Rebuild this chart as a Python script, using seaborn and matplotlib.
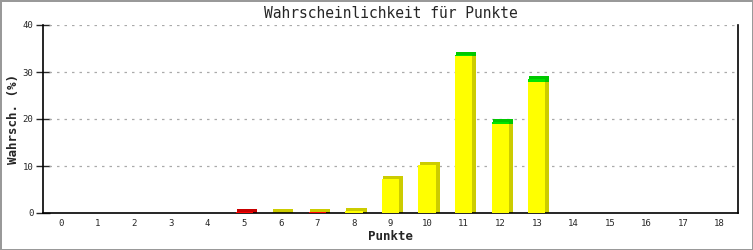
import numpy as np
import pandas as pd
import matplotlib
matplotlib.use("Agg")
import matplotlib.pyplot as plt
import seaborn as sns

# ---- data ----
punkte = list(range(19))
red_vals    = [0, 0, 0, 0, 0, 0.15, 0, 0.15, 0, 0, 0, 0, 0, 0, 0, 0, 0, 0, 0]
yellow_vals = [0, 0, 0, 0, 0, 0, 0.1, 0.05, 0.5, 7.3, 10.3, 33.4, 19.0, 27.9, 0, 0, 0, 0, 0]
green_vals  = [0, 0, 0, 0, 0, 0, 0, 0, 0, 0, 0, 0.25, 0.35, 0.7, 0, 0, 0, 0, 0]
y_ticks = [0, 10, 20, 30, 40]

title = "Wahrscheinlichkeit für Punkte"
xlabel = "Punkte"
ylabel = "Wahrsch. (%)"

sns.set_style("white")
plt.rcParams['font.family'] = ['DejaVu Sans Mono', 'DejaVu Sans']

fig = plt.figure(figsize=(7.53, 2.50), dpi=100)
fig.patch.set_facecolor("white")
fig.patch.set_edgecolor("#999999")
fig.patch.set_linewidth(2)
ax = fig.add_axes([43/753, 37/250, (738-43)/753, (213-25)/250])

x = np.array(punkte, dtype=float)
red = np.array(red_vals)
yel = np.array(yellow_vals)
grn = np.array(green_vals)

w = 0.47
dx, dy = 0.11, 0.65

segments = [
    (np.zeros_like(red), red, "#ff0000", "#c80000"),
    (red, yel, "#ffff00", "#cccc00"),
    (red + yel, grn, "#00e400", "#00c800"),
]

# 3D side/top faces
for bottom, h, front, dark in segments:
    m = h > 0
    ax.bar(x[m] - w / 2 + 0.03, h[m] + dy, width=w + dx - 0.03, bottom=bottom[m],
           align="edge", color=dark, linewidth=0, zorder=2)

# front faces
df = pd.DataFrame({"Punkte": punkte, "val": red_vals})
sns.barplot(data=df, x="Punkte", y="val", ax=ax, width=w, color="#ff0000",
            linewidth=0, errorbar=None, zorder=3, saturation=1)
for bottom, h, front, dark in segments[1:]:
    m = h > 0
    ax.bar(x[m], h[m], width=w, bottom=bottom[m], color=front, linewidth=0, zorder=3)

ax.set_xlim(-0.5, 18.5)
ax.set_ylim(0, 40)
ax.set_xticks(punkte)
ax.set_xticklabels([str(p) for p in punkte])
ax.set_yticks(y_ticks)
for yv in y_ticks[1:]:
    ax.axhline(yv, xmin=0.008, color="#aaaaaa", linestyle=(0, (2, 4)), linewidth=0.9, zorder=1)

for s in ["left", "bottom", "right"]:
    ax.spines[s].set_visible(True)
    ax.spines[s].set_color("black")
    ax.spines[s].set_linewidth(1.2)
ax.spines["top"].set_visible(False)

ax.tick_params(axis="x", length=0, labelsize=6.5, pad=4)
ax.tick_params(axis="y", direction="inout", length=10, width=1, labelsize=6.5, pad=2, left=True)

ax.set_title(title, fontsize=10.5, pad=5)
ax.set_xlabel(xlabel, fontsize=9, fontweight="bold", labelpad=2)
ax.set_ylabel(ylabel, fontsize=9, fontweight="bold", labelpad=2)

fig.savefig("out.png", dpi=100)
